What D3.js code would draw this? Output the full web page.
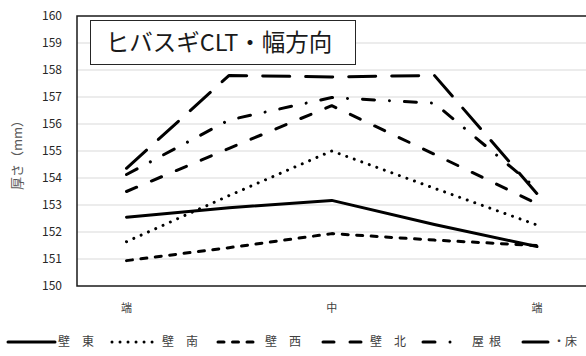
<html>
  <head>
    <meta charset="utf-8">
    <style>
      body
      {
        margin     : 0;
        background : #ffffff;
        overflow   : hidden;
      }
      text { font-family: "Noto Sans CJK JP", "Noto Sans", sans-serif; }
    </style>
  </head>
  <body>
    <svg height="356" width="586"></svg>
    <script src="https://d3js.org/d3.v7.min.js"></script>
    <script>
      // categories along the width of the panel (only 3 are labelled)
      var xLabels = ["端", "", "中", "", "端"];
      var yTicks  = d3.range(150, 161, 1);

      var seriesNames = ["壁　東", "壁　南", "壁　西", "壁　北", "屋根", "・床"];
      var wallEast  = [152.55, 152.90, 153.17, 152.28, 151.46];
      var wallSouth = [151.64, 153.35, 155.00, 153.62, 152.26];
      var wallWest  = [150.94, 151.42, 151.94, 151.70, 151.50];
      var wallNorth = [153.50, 155.10, 156.68, 154.88, 153.05];
      var roof      = [154.13, 156.15, 156.98, 156.77, 153.60];
      var floor     = [154.36, 157.80, 157.74, 157.80, 153.42];

      var series = [wallEast, wallSouth, wallWest, wallNorth, roof, floor];

      // line styles, same order as the series
      var dashes = [null, "0.01,8", "6,8.5", "11,16", "12,15,0.01,15", "27,16"];
      var legendX = [8, 112, 218, 323, 423, 523];
      var legendLen = [47, 41, 35, 39, 30, 25];
      var legendTextX = [58, 162, 265, 370, 472, 553];

      var svg    =   d3.select("svg"),
          frame  = { left: 77, top: 16, right: 591, bottom: 286 };

      var x = d3.scalePoint()
          .domain(d3.range(xLabels.length))
          .range([126.5, 537]);

      var y = d3.scaleLinear()
          .domain([150, 160])
          .range([frame.bottom, frame.top]);

      // gridlines
      svg.append("g")
          .selectAll("line")
          .data(yTicks.slice(1, -1))
          .enter().append("line")
          .attr("x1", frame.left)
          .attr("x2", frame.right)
          .attr("y1", function(d) { return y(d); })
          .attr("y2", function(d) { return y(d); })
          .attr("stroke", "#d9d9d9")
          .attr("stroke-width", 1);

      // y tick labels
      svg.append("g")
          .selectAll("text")
          .data(yTicks)
          .enter().append("text")
          .attr("x", 62)
          .attr("y", function(d) { return y(d); })
          .attr("dy", "0.35em")
          .attr("text-anchor", "end")
          .attr("font-size", 12)
          .attr("fill", "#262626")
          .text(function(d) { return d; });

      // x labels
      svg.append("g")
          .selectAll("text")
          .data(xLabels)
          .enter().append("text")
          .attr("x", function(d, i) { return x(i); })
          .attr("y", 308)
          .attr("dy", "0.35em")
          .attr("text-anchor", "middle")
          .attr("font-size", 11)
          .attr("fill", "#404040")
          .text(function(d) { return d; });

      // y title
      svg.append("text")
          .attr("transform", "translate(17,152) rotate(-90)")
          .attr("dy", "0.35em")
          .attr("text-anchor", "middle")
          .attr("font-size", 13)
          .attr("fill", "#595959")
          .text("厚さ（mm）");

      var line = d3.line()
          .x(function(d, i) { return x(i); })
          .y(function(d) { return y(d); });

      svg.append("g")
          .attr("fill", "none")
          .attr("stroke", "#000000")
          .attr("stroke-width", 3)
          .attr("stroke-linecap", "round")
          .attr("stroke-linejoin", "round")
          .selectAll("path")
          .data(series)
          .enter().append("path")
          .attr("stroke-dasharray", function(d, i) { return dashes[i]; })
          .attr("d", line);

      // plot frame
      svg.append("rect")
          .attr("x", frame.left)
          .attr("y", frame.top)
          .attr("width", frame.right - frame.left)
          .attr("height", frame.bottom - frame.top)
          .attr("fill", "none")
          .attr("stroke", "#1a1a1a")
          .attr("stroke-width", 1.5);

      // title box
      svg.append("rect")
          .attr("x", 90.5)
          .attr("y", 20.5)
          .attr("width", 265)
          .attr("height", 44)
          .attr("fill", "#ffffff")
          .attr("stroke", "#262626")
          .attr("stroke-width", 1);

      svg.append("text")
          .attr("x", 219)
          .attr("y", 43)
          .attr("dy", "0.35em")
          .attr("text-anchor", "middle")
          .attr("font-size", 23.5)
          .attr("fill", "#1a1a1a")
          .text("ヒバスギCLT・幅方向");

      // legend
      var legend = svg.append("g")
          .selectAll("g")
          .data(seriesNames)
          .enter().append("g");

      legend.append("line")
          .attr("x1", function(d, i) { return legendX[i]; })
          .attr("x2", function(d, i) { return legendX[i] + legendLen[i]; })
          .attr("y1", 342)
          .attr("y2", 342)
          .attr("stroke", "#000000")
          .attr("stroke-width", 3)
          .attr("stroke-linecap", "round")
          .attr("stroke-dasharray", function(d, i) { return dashes[i]; });

      legend.append("text")
          .attr("x", function(d, i) { return legendTextX[i]; })
          .attr("y", 342)
          .attr("dy", "0.35em")
          .attr("font-size", 12)
          .attr("letter-spacing", function(d) { return d === "屋根" ? 5 : 0; })
          .attr("fill", "#404040")
          .text(function(d) { return d; });
    </script>
  </body>
</html>
